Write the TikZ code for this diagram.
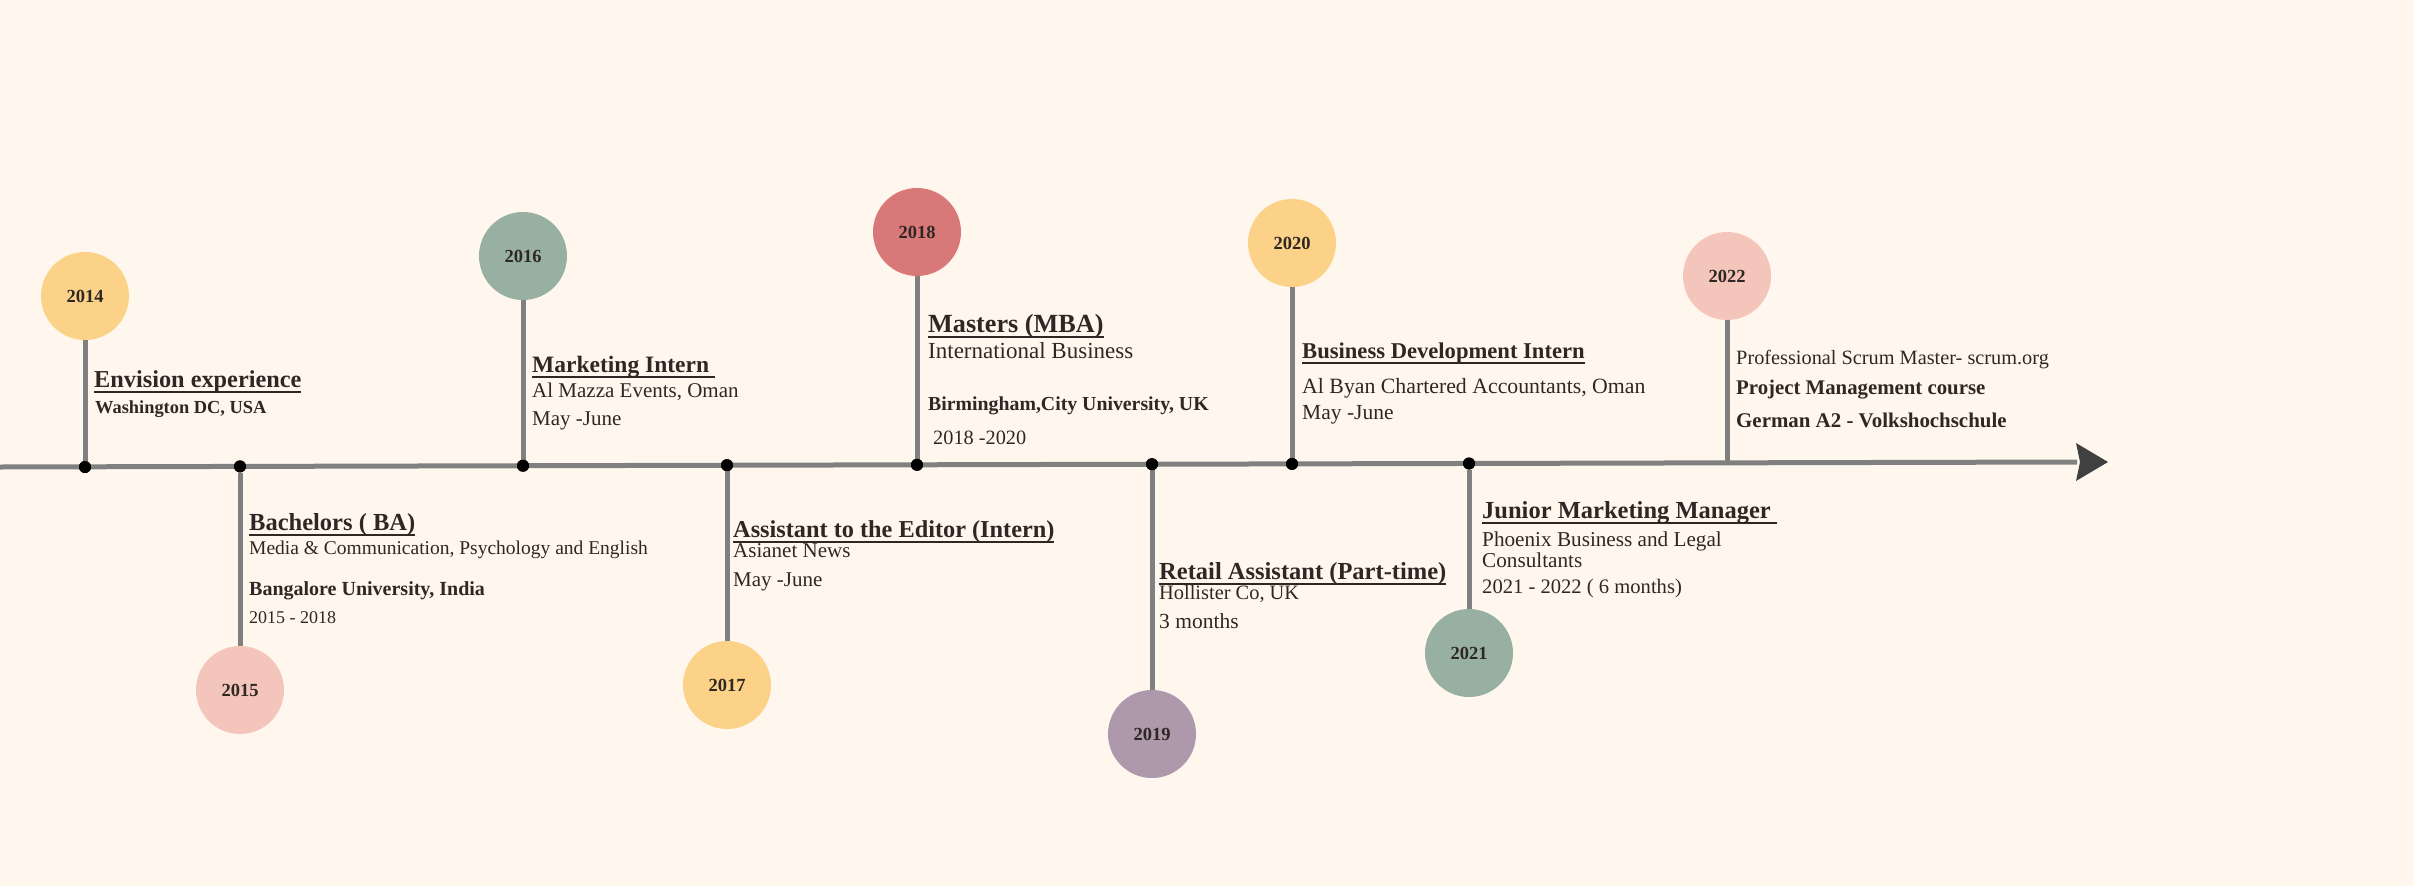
\documentclass[tikz,border=0pt]{standalone}
\usepackage{fontspec}
\setmainfont{Liberation Serif}
\definecolor{bg}{HTML}{FFF7EE}
\definecolor{ink}{HTML}{2F2723}
\definecolor{lgray}{HTML}{808080}
\definecolor{dgray}{HTML}{404040}
\definecolor{cyel}{HTML}{FBD288}
\definecolor{cpink}{HTML}{F4C5BA}
\definecolor{csage}{HTML}{97B0A2}
\definecolor{cred}{HTML}{D97878}
\definecolor{cmauve}{HTML}{AE98AC}
\newsavebox\ulbox
\newcommand\ulx[1]{\sbox\ulbox{#1}\rlap{\rule[-5.5pt]{\wd\ulbox}{2pt}}\usebox\ulbox}
\newcommand\fs[1]{\fontsize{#1}{#1}\selectfont}
\tikzset{
  yr/.style={circle, fill=#1, minimum size=88pt, inner sep=0pt, text=ink, font=\fs{18.5}\bfseries},
  ttl/.style={anchor=base west, inner sep=0pt, text=ink, font=\fs{#1}\bfseries},
  txt/.style={anchor=base west, inner sep=0pt, text=ink, font=\fs{#1}},
  med/.style={anchor=base west, inner sep=0pt, text=ink, font=\fs{#1}\bfseries},
  stemline/.style={draw=lgray, line width=5pt},
  dotnode/.style={circle, fill=black, minimum size=12pt, inner sep=0pt},
}
\begin{document}
\begin{tikzpicture}[x=1pt,y=-1pt]
\path[fill=bg] (0,0) rectangle (2414,886);
\useasboundingbox (0,0) rectangle (2414,886);

% main line
\coordinate (L) at (0,467);
\coordinate (R) at (2077,462);
\draw[lgray, line width=5pt] (L) -- (R);
\fill[dgray] (2076,443) -- (2108,462) -- (2076,481) -- (2080,462) -- cycle;

% circles
\node[yr=cyel]   (y2014) at (85,296)   {2014};
\node[yr=cpink]  (y2015) at (240,690)  {2015};
\node[yr=csage]  (y2016) at (523,256)  {2016};
\node[yr=cyel]   (y2017) at (727,685)  {2017};
\node[yr=cred]   (y2018) at (917,232)  {2018};
\node[yr=cmauve] (y2019) at (1152,734) {2019};
\node[yr=cyel]   (y2020) at (1292,243) {2020};
\node[yr=csage]  (y2021) at (1469,653) {2021};
\node[yr=cpink]  (y2022) at (1727,276) {2022};

% dots
\node[dotnode] (d2014) at (85,467) {};
\node[dotnode] (d2015) at (240,466.4) {};
\node[dotnode] (d2016) at (523,465.7) {};
\node[dotnode] (d2017) at (727,465.2) {};
\node[dotnode] (d2018) at (917,464.8) {};
\node[dotnode] (d2019) at (1152,464.2) {};
\node[dotnode] (d2020) at (1292,463.9) {};
\node[dotnode] (d2021) at (1469,463.5) {};
\coordinate (d2022) at (1727,462.8);

% stems
\draw[stemline] (y2014) -- (d2014);
\draw[stemline] (y2015) -- (d2015);
\draw[stemline] (y2016) -- (d2016);
\draw[stemline] (y2017) -- (d2017);
\draw[stemline] (y2018) -- (d2018);
\draw[stemline] (y2019) -- (d2019);
\draw[stemline] (y2020) -- (d2020);
\draw[stemline] (y2021) -- (d2021);
\draw[stemline] (y2022) -- (d2022);
\node[dotnode] at (d2014) {};
\node[dotnode] at (d2015) {};
\node[dotnode] at (d2016) {};
\node[dotnode] at (d2017) {};
\node[dotnode] at (d2018) {};
\node[dotnode] at (d2019) {};
\node[dotnode] at (d2020) {};
\node[dotnode] at (d2021) {};

% 2014
\node[ttl=24.3] (t14a) at (94,387) {\ulx{Envision experience}};
\node[med=18.4] (t14b) at (95,413) {Washington DC, USA};
% 2015
\node[ttl=24.5] (t15a) at (249,530) {\ulx{Bachelors ( BA)}};
\node[txt=19.5] (t15b) at (249,554) {Media \& Communication, Psychology and English};
\node[med=20]   (t15c) at (249,595) {Bangalore University, India};
\node[txt=18]   (t15d) at (249,623) {2015 - 2018};
% 2016
\node[ttl=23.5] (t16a) at (532,372) {\ulx{Marketing Intern\ }};
\node[txt=21]   (t16b) at (532,397) {Al Mazza Events, Oman};
\node[txt=21]   (t16c) at (532,425) {May -June};
% 2017
\node[ttl=24.3] (t17a) at (733,537) {\ulx{Assistant to the Editor (Intern)}};
\node[txt=21]   (t17b) at (733,557) {Asianet News};
\node[txt=21]   (t17c) at (733,586) {May -June};
% 2018
\node[ttl=26.2] (t18a) at (928,332) {\ulx{Masters (MBA)}};
\node[txt=23]   (t18b) at (928,358) {International Business};
\node[med=19.8] (t18c) at (928,410) {Birmingham,City University, UK};
\node[txt=20.3] (t18d) at (933,444) {2018 -2020};
% 2019
\node[ttl=24.5] (t19a) at (1159,579) {\ulx{Retail Assistant (Part-time)}};
\node[txt=20.4] (t19b) at (1159,599) {Hollister Co, UK};
\node[txt=21.5] (t19c) at (1159,628) {3 months};
% 2020
\node[ttl=22.6] (t20a) at (1302,358) {\ulx{Business Development Intern}};
\node[txt=21.8] (t20b) at (1302,393) {Al Byan Chartered Accountants, Oman};
\node[txt=21.5] (t20c) at (1302,419) {May -June};
% 2021
\node[ttl=24.5] (t21a) at (1482,518) {\ulx{Junior Marketing Manager\ }};
\node[txt=21.2] (t21b) at (1482,546) {Phoenix Business and Legal};
\node[txt=21.2] (t21c) at (1482,567) {Consultants};
\node[txt=20.6] (t21d) at (1482,593) {2021 - 2022 ( 6 months)};
% 2022
\node[txt=20.3] (t22a) at (1736,364) {Professional Scrum Master- scrum.org};
\node[med=20.8] (t22b) at (1736,394) {Project Management course};
\node[med=20.9] (t22c) at (1736,427) {German A2 - Volkshochschule};
\end{tikzpicture}
\end{document}
